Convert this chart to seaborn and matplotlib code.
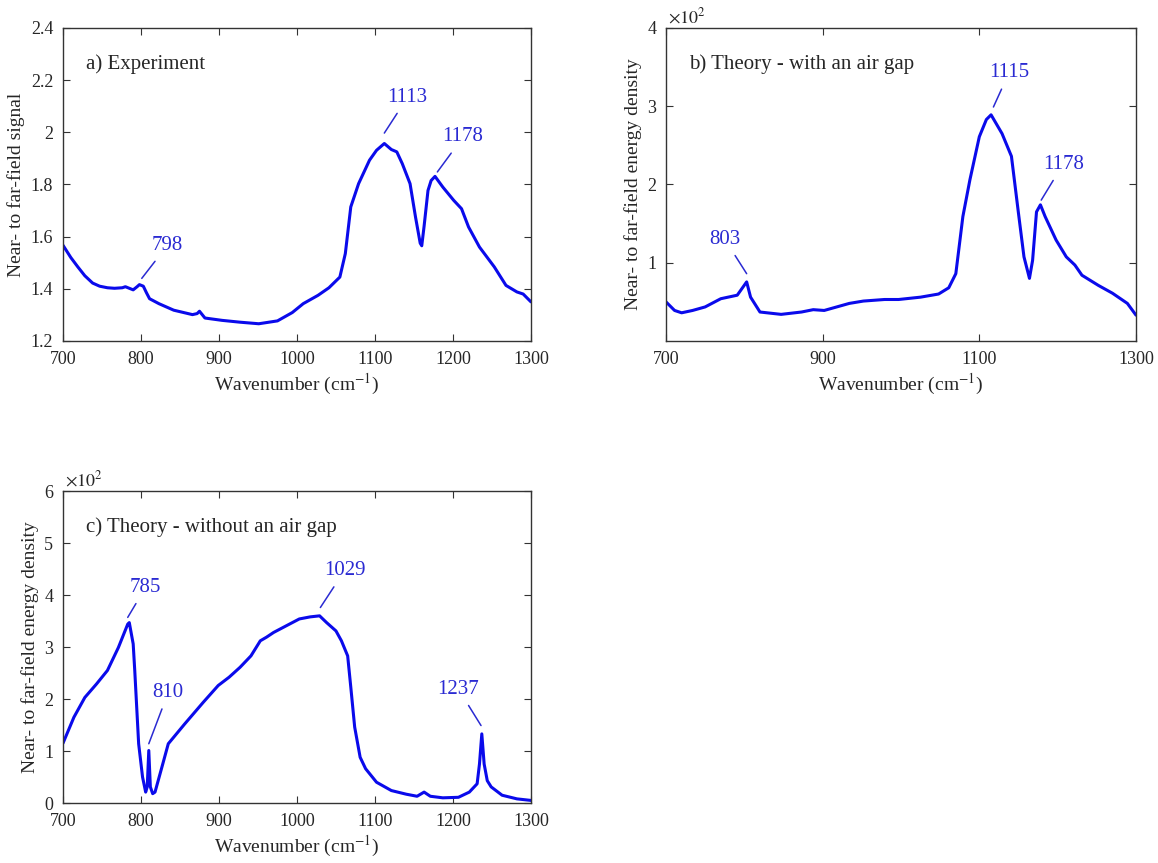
import matplotlib
matplotlib.use('Agg')
import matplotlib.pyplot as plt
import matplotlib.ticker as mticker
import seaborn as sns
import numpy as np
import pandas as pd

sns.set_theme(style='ticks')
plt.rcParams['font.family'] = ['Liberation Serif', 'DejaVu Serif']
plt.rcParams['mathtext.fontset'] = 'stix'

# a) Experiment
wn_a = [700, 710, 719, 728, 738, 747, 757, 766, 776, 780, 790, 795, 798, 803, 807,
        811, 823, 842, 866, 872, 875, 882, 904, 927, 951, 975, 994, 1008, 1027,
        1041, 1055, 1062, 1069, 1079, 1093, 1102, 1112, 1121, 1128, 1135, 1145,
        1152, 1158, 1160, 1163, 1168, 1172, 1177, 1187, 1201, 1211, 1220, 1234,
        1253, 1268, 1282, 1290, 1300]
sig_a = [1.567, 1.520, 1.484, 1.450, 1.422, 1.410, 1.404, 1.402, 1.404, 1.408, 1.396,
         1.408, 1.416, 1.410, 1.385, 1.362, 1.343, 1.318, 1.301, 1.305, 1.314, 1.288,
         1.279, 1.272, 1.266, 1.277, 1.309, 1.343, 1.375, 1.404, 1.445, 1.535, 1.714,
         1.803, 1.893, 1.931, 1.957, 1.934, 1.925, 1.880, 1.803, 1.675, 1.575, 1.565,
         1.640, 1.777, 1.815, 1.831, 1.790, 1.739, 1.707, 1.637, 1.560, 1.484, 1.413,
         1.388, 1.380, 1.350]

# b) Theory - with an air gap (x10^2)
wn_b = [700, 711, 720, 734, 750, 770, 791, 797, 803, 808, 820, 847, 873, 888, 902,
        934, 952, 979, 997, 1025, 1048, 1061, 1070, 1079, 1088, 1100, 1109, 1115,
        1129, 1141, 1150, 1157, 1164, 1168, 1173, 1178, 1184, 1198, 1211, 1222,
        1231, 1252, 1270, 1289, 1300]
ed_b = [0.50, 0.39, 0.36, 0.39, 0.435, 0.54, 0.585, 0.67, 0.755, 0.56, 0.37, 0.34,
        0.37, 0.40, 0.39, 0.48, 0.51, 0.53, 0.53, 0.56, 0.60, 0.68, 0.86, 1.59,
        2.06, 2.61, 2.83, 2.89, 2.65, 2.36, 1.63, 1.075, 0.80, 1.03, 1.65, 1.74,
        1.59, 1.29, 1.075, 0.97, 0.84, 0.71, 0.61, 0.48, 0.33]

# c) Theory - without an air gap (x10^2)
wn_c = [700, 714, 728, 743, 757, 771, 783, 785, 790, 792, 797, 802, 806, 808, 810,
        812, 815, 818, 828, 835, 856, 880, 899, 913, 927, 941, 953, 961, 970, 989,
        1003, 1017, 1029, 1038, 1050, 1057, 1065, 1069, 1074, 1081, 1088, 1102,
        1121, 1140, 1154, 1163, 1171, 1187, 1207, 1221, 1231, 1234, 1237, 1240,
        1244, 1249, 1263, 1282, 1300]
ed_c = [1.15, 1.65, 2.03, 2.29, 2.55, 2.99, 3.44, 3.47, 3.06, 2.55, 1.14, 0.50, 0.21,
        0.31, 1.01, 0.31, 0.18, 0.21, 0.755, 1.14, 1.52, 1.94, 2.26, 2.42, 2.61,
        2.83, 3.12, 3.19, 3.28, 3.43, 3.54, 3.58, 3.60, 3.47, 3.31, 3.12, 2.83,
        2.23, 1.46, 0.88, 0.66, 0.40, 0.24, 0.17, 0.13, 0.21, 0.13, 0.10, 0.11,
        0.21, 0.37, 0.75, 1.33, 0.75, 0.43, 0.31, 0.15, 0.08, 0.05]

# peak labels: text, line end near peak (x, y), text centre (x, y)
ann_a = [('798', 801, 1.44, 834, 1.567),
         ('1113', 1112, 1.997, 1142, 2.135),
         ('1178', 1180, 1.848, 1213, 1.982)]
ann_b = [('803', 803, 0.86, 775, 1.30),
         ('1115', 1118, 2.99, 1138, 3.43),
         ('1178', 1179, 1.80, 1207, 2.26)]
ann_c = [('785', 783, 3.57, 806, 4.15),
         ('810', 810, 1.14, 835, 2.13),
         ('1029', 1030, 3.76, 1061, 4.47),
         ('1237', 1236, 1.49, 1207, 2.19)]

line_col = '#0a0aeb'
text_col = '#2a2ad2'
frame_col = '#333333'

fig = plt.figure(figsize=(11.58, 8.63), dpi=100)
ax_a = fig.add_axes([0.0544, 0.6049, 0.4041, 0.3627])
ax_b = fig.add_axes([0.5751, 0.6049, 0.4059, 0.3627])
ax_c = fig.add_axes([0.0544, 0.0695, 0.4041, 0.3615])


def draw(ax, wn, vals, ann, title, ylabel, ylim, yticks, xticks, mult):
    df = pd.DataFrame({'wn': wn, 'val': vals})
    sns.lineplot(data=df, x='wn', y='val', ax=ax, color=line_col, lw=2.2,
                 estimator=None, sort=False)
    ax.set_xlim(700, 1300)
    ax.set_ylim(*ylim)
    ax.set_xticks(xticks)
    ax.set_yticks(yticks)
    ax.yaxis.set_major_formatter(mticker.FormatStrFormatter('%g'))
    ax.tick_params(direction='in', top=True, right=True, length=5,
                   width=0.8, color=frame_col, labelsize=13)
    ax.tick_params(axis='x', pad=7)
    ax.tick_params(axis='y', pad=7)
    for s in ax.spines.values():
        s.set_color(frame_col)
        s.set_linewidth(1.0)
    ax.set_xlabel(r'Wavenumber (cm$^{-1}$)', fontsize=14, labelpad=3)
    ax.set_ylabel(ylabel, fontsize=14, labelpad=4)
    ax.text(0.05, 0.885, title, transform=ax.transAxes, fontsize=15,
            ha='left', va='center')
    for lab, px, py, tx, ty in ann:
        ax.annotate(lab, xy=(px, py), xytext=(tx, ty), textcoords='data',
                    ha='center', va='center', fontsize=15, color=text_col,
                    arrowprops=dict(arrowstyle='-', color=text_col, lw=1.1,
                                    shrinkA=3, shrinkB=0))
    if mult:
        ax.text(0.005, 1.003, r'$\times 10^{2}$', transform=ax.transAxes,
                fontsize=13, ha='left', va='bottom')


draw(ax_a, wn_a, sig_a, ann_a, 'a) Experiment', 'Near- to far-field signal',
     (1.2, 2.4), np.arange(1.2, 2.41, 0.2), np.arange(700, 1301, 100), False)
draw(ax_b, wn_b, ed_b, ann_b, 'b) Theory - with an air gap',
     'Near- to far-field energy density', (0, 4), [1, 2, 3, 4],
     [700, 900, 1100, 1300], True)
draw(ax_c, wn_c, ed_c, ann_c, 'c) Theory - without an air gap',
     'Near- to far-field energy density', (0, 6), [0, 1, 2, 3, 4, 5, 6],
     np.arange(700, 1301, 100), True)

fig.savefig('out.png', dpi=100)
